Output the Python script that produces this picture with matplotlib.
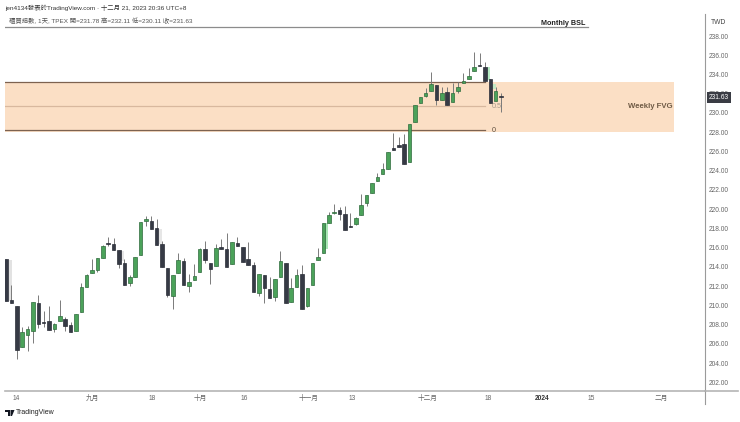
import matplotlib
matplotlib.use('Agg')
import matplotlib.pyplot as plt
from matplotlib.patches import Polygon
import numpy as np

plt.rcParams['font.family'] = ['Liberation Sans', 'Noto Sans CJK TC', 'DejaVu Sans']

opens = [214.85, 210.6, 209.97, 205.7, 206.9, 207.37, 210.24, 208.3, 208.4, 207.55,
         208.37, 208.6, 207.96, 207.33, 209.34, 211.94, 213.4, 213.64, 214.9, 216.5,
         216.34, 215.75, 214.37, 212.3, 212.98, 215.27, 218.77, 218.73, 218.04, 216.34,
         213.88, 211.0, 213.33, 214.6, 212.05, 212.63, 213.43, 215.82, 214.44, 214.09,
         216.06, 215.89, 214.26, 216.5, 216.1, 214.78, 214.19, 211.32, 213.12, 211.66,
         210.83, 212.91, 214.37, 210.38, 211.94, 213.22, 209.93, 212.1, 214.71, 215.48,
         218.59, 219.6, 219.91, 219.46, 218.2, 218.42, 219.43, 220.61, 221.65, 222.89,
         223.62, 224.18, 226.35, 226.63, 226.78, 224.94, 229.09, 231.0, 231.76, 232.31,
         232.9, 231.34, 232.14, 231.17, 232.28, 233.08, 233.49, 234.36, 234.95, 234.81,
         233.49, 231.24, 231.78]
closes = [210.42, 210.2, 205.36, 207.2, 207.5, 210.31, 208.06, 208.2, 207.45, 208.06,
          208.86, 207.85, 207.2, 209.1, 211.87, 213.2, 213.64, 214.92, 216.17, 216.43,
          215.75, 214.3, 212.1, 212.98, 214.99, 218.63, 218.94, 217.97, 216.24, 214.02,
          211.07, 213.15, 214.71, 212.1, 212.46, 213.02, 215.82, 214.71, 213.74, 215.93,
          215.86, 213.95, 216.55, 216.17, 214.54, 214.19, 211.39, 213.26, 211.77, 210.73,
          212.7, 214.64, 210.21, 211.77, 213.12, 209.58, 211.77, 214.44, 215.06, 218.56,
          219.39, 219.7, 219.5, 217.83, 218.1, 219.05, 220.43, 221.47, 222.69, 223.38,
          224.18, 225.98, 226.2, 226.5, 224.7, 228.85, 230.82, 231.7, 232.1, 232.97,
          231.34, 232.04, 230.82, 232.04, 232.66, 233.35, 233.84, 234.81, 234.84, 233.35,
          231.07, 232.28, 231.63]
highs = [214.85, 212.1, 209.97, 207.8, 207.85, 210.31, 211.1, 209.45, 209.9, 208.2,
         210.6, 208.8, 208.3, 209.1, 212.35, 213.3, 214.85, 214.92, 216.24, 217.07,
         216.97, 215.75, 214.85, 213.15, 215.0, 218.63, 219.32, 219.29, 218.97, 216.72,
         213.88, 213.15, 215.4, 214.9, 213.26, 214.3, 215.93, 216.65, 214.44, 216.34,
         216.93, 217.5, 216.55, 217.07, 216.1, 216.55, 214.47, 213.26, 213.12, 212.9,
         212.7, 215.68, 214.37, 212.84, 213.74, 214.19, 211.77, 214.44, 215.96, 218.56,
         219.74, 220.5, 220.26, 220.33, 219.57, 219.22, 221.58, 221.47, 222.69, 223.73,
         224.83, 225.98, 227.95, 227.47, 227.8, 228.85, 230.82, 231.7, 232.56, 234.3,
         232.9, 232.73, 232.73, 233.15, 233.25, 234.18, 234.63, 236.37, 236.2, 235.29,
         233.49, 232.73, 232.11]
lows = [210.42, 210.2, 204.4, 205.7, 205.3, 206.1, 207.6, 207.7, 207.45, 207.2,
        208.37, 207.35, 207.2, 207.33, 209.34, 211.9, 213.4, 213.46, 214.9, 216.17,
        215.75, 213.85, 212.1, 212.0, 212.98, 215.27, 218.25, 217.97, 216.24, 214.02,
        210.9, 209.6, 213.33, 212.1, 211.42, 212.63, 213.43, 214.37, 212.2, 214.09,
        215.86, 213.95, 214.26, 216.17, 214.54, 214.19, 211.39, 211.0, 210.28, 210.73,
        210.49, 212.91, 210.21, 210.38, 211.94, 209.58, 209.86, 212.1, 214.71, 215.48,
        218.59, 219.5, 218.87, 217.83, 218.1, 218.36, 219.43, 220.37, 221.65, 222.89,
        223.62, 224.18, 226.15, 226.5, 224.7, 224.94, 229.09, 231.0, 231.69, 232.31,
        230.82, 231.34, 230.82, 231.17, 232.04, 233.08, 233.49, 234.36, 234.84, 233.35,
        231.07, 231.24, 230.11]

# faint smeared bars next to some candles
ghost_pos = [0.8, 59.6, 89.6, 90.7, 28.6, 21.6]
ghost_top = [214.7, 218.6, 234.8, 233.0, 217.9, 215.7]
ghost_bot = [210.5, 215.9, 233.4, 232.5, 216.4, 214.6]
ghost_col = ['#e2e2e2', '#a9e6b5', '#b6ebc4', '#c4e8c4', '#e6e6e6', '#e6e6e6']

price_ticks = list(range(202, 240, 2))
time_pos = [1.98, 16, 27.1, 36.1, 44.2, 56.3, 64.3, 78.4, 89.6, 99.6, 108.7, 121.8]
time_labels = ['14', '九月', '18', '十月', '16', '十一月', '13', '十二月', '18', '2024', '15', '二月']

fvg_top, fvg_mid, fvg_bot, fvg_line_bot = 233.27, 230.72, 228.05, 228.18
bsl_level = 238.9
last_price = 231.63

W, H = 740, 422
fig = plt.figure(figsize=(W/100, H/100), dpi=100)
ax = fig.add_axes([5/W, 1-390.5/H, 700/W, 376.5/H])
ax.set_xlim(-0.186, 129.9)
ax.set_ylim(201.15, 240.29)

for s in ['top', 'left']:
    ax.spines[s].set_visible(False)
ax.spines['right'].set_color('#9a9a9a')
ax.spines['bottom'].set_color('#b5b5b5')
ax.spines['bottom'].set_linewidth(1.2)
ax.spines['right'].set_linewidth(0.8)
ax.plot([1, 1], [-0.036, 0], color='#9a9a9a', lw=0.8, transform=ax.transAxes, clip_on=False)
ax.plot([1, 1.047], [0, 0], color='#b5b5b5', lw=1.2, transform=ax.transAxes, clip_on=False)

# FVG zone
ax.fill_between([-0.186, 124.2], fvg_bot, fvg_top, color='#fbdfc5', lw=0, zorder=1)
ax.plot([-0.186, 89], [fvg_top]*2, color='#7d6250', lw=0.9, zorder=2)
ax.plot([-0.186, 89], [fvg_mid]*2, color='#d8b89e', lw=0.9, zorder=2)
ax.plot([-0.186, 89], [fvg_line_bot]*2, color='#7d6250', lw=0.9, zorder=2)
ax.text(90.2, fvg_mid, '0.5', color='#a89a8c', fontsize=5.2, va='center', ha='left', zorder=2)
ax.text(90.2, fvg_line_bot, '0', color='#5e5040', fontsize=5.2, va='center', ha='left')
ax.text(123.8, fvg_mid, 'Weekly FVG', color='#6e5a45', fontsize=5.6, fontweight='bold',
        va='center', ha='right')

ax.plot([-0.186, 108.2], [bsl_level]*2, color='#8c8c8c', lw=0.9, zorder=2)
ax.text(107.6, bsl_level + 0.06, 'Monthly BSL', color='#222222', fontsize=5.2, fontweight='bold',
        va='bottom', ha='right')

# candles
idx = np.arange(len(opens))
o, c, h, l = map(np.array, (opens, closes, highs, lows))
up = c >= o
for gx, gt, gb, gc in zip(ghost_pos, ghost_top, ghost_bot, ghost_col):
    ax.bar(gx, gt-gb, bottom=gb, width=0.6, color=gc, lw=0, zorder=2.5)
ax.vlines(idx, l, h, color='#7a7a7a', lw=0.7, zorder=3)
ax.bar(idx[up], (c-o)[up], bottom=o[up], width=0.66, color='#4ba25a', edgecolor='#2f6b3c',
       lw=0.5, zorder=4)
ax.bar(idx[~up], (c-o)[~up], bottom=o[~up], width=0.66, color='#363a45', edgecolor='#2b2e38',
       lw=0.5, zorder=4)

# axes labels
ax.yaxis.tick_right()
ax.set_yticks(price_ticks)
ax.set_yticklabels([f'{v:.2f}' for v in price_ticks], fontsize=4.8, color='#666666')
ax.set_xticks(time_pos)
ax.set_xticklabels(time_labels, fontsize=4.8, color='#666666')
ax.tick_params(axis='y', length=0, pad=3)
ax.tick_params(axis='x', length=0, pad=3)
for lab in ax.get_xticklabels():
    if lab.get_text() == '2024':
        lab.set_fontweight('bold')
        lab.set_color('#333333')

fig.text(718.5/W, 1-22/H, 'TWD', fontsize=4.9, color='#444444', ha='center', va='center')
fig.text(719/W, 1-97.8/H, f'{last_price:.2f}', fontsize=4.8, color='white', ha='center', va='center',
         bbox=dict(boxstyle='square,pad=0.28', fc='#3a3c44', ec='none'), zorder=10)

fig.text(5/W, 1-8/H, 'jen4134發表於TradingView.com · 十二月 21, 2023 20:36 UTC+8', fontsize=4.6,
         color='#333333', va='center')
fig.text(9/W, 1-21/H, '櫃買指數, 1天, TPEX 開=231.78 高=232.11 低=230.11 收=231.63', fontsize=4.6,
         color='#555555', va='center')

# logo
logo = [[(5, 410), (10, 410), (10, 416), (8, 416), (8, 412), (5, 412)],
        [(10.5, 410), (14.5, 410), (12, 416), (10.5, 416)]]
for pts in logo:
    fig.add_artist(Polygon([(x/W, 1-y/H) for x, y in pts], closed=True, color='#131722', lw=0,
                           transform=fig.transFigure))
fig.text(16/W, 1-413/H, 'TradingView', fontsize=5.0, color='#222222', va='center')

fig.savefig('out.png', dpi=100)
